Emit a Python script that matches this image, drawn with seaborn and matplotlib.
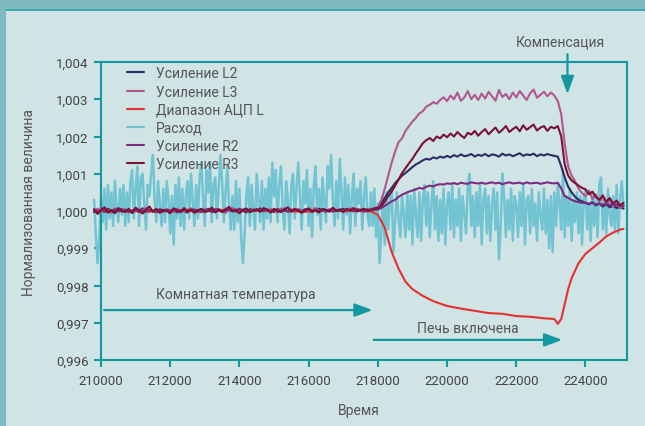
import matplotlib
matplotlib.use("Agg")
import matplotlib.pyplot as plt
import seaborn as sns
import pandas as pd
import numpy as np
from matplotlib.patches import Rectangle
from matplotlib.lines import Line2D

# series names (legend order)
series_names = ["Усиление L2", "Усиление L3", "Диапазон АЦП L", "Расход", "Усиление R2", "Усиление R3"]
colors = {"Усиление L2": "#2d2b63", "Усиление L3": "#b0578f", "Диапазон АЦП L": "#e5312e",
          "Расход": "#72c4d3", "Усиление R2": "#7b2b80", "Усиление R3": "#7a1234"}

# noisy channels sampled every 100 time units from 209800; values = deviation from 1 in units of 1e-5
start_t = 209800
step_t = 100
l2_dev = [-3, 4, 1, -2, 6, 0, -4, 3, 5, -1,
          2, -5, 4, 1, 7, -2, 3, 0, -3, 5,
          1, 4, -2, 6, -1, 3, 0, -4, 5, 2,
          -2, 4, 1, 6, -3, 2, 5, -1, 0, 4,
          3, -2, 6, 1, -4, 5, 2, 0, 7, -1,
          4, 2, -3, 5, 1, 6, -2, 3, 0, 4,
          -1, 5, 2, -3, 4, 6, 1, -2, 3, 5,
          0, 2, 6, -1, 4, 1, 5, 3, -2, 4,
          2, 5,
          8, 20, 35, 50, 62, 75, 85, 95, 102, 110,
          118, 125, 130, 136, 140, 138, 144, 141, 146, 143,
          148, 144, 150, 146, 152, 147, 149, 153, 146, 151,
          148, 153, 147, 152, 150, 146, 154, 149, 152, 147,
          151, 155, 148, 152, 150, 154, 147, 152, 149, 153,
          150, 148, 146, 120, 90, 65, 50, 38, 30, 26,
          22, 18, 24, 15, 20, 12, 18, 10, 14, 8,
          12, 6]
l3_dev = [2, 6, -3, 4, 0, -5, 7, 3, -2, 5,
          -4, 1, 6, -1, 3, 8, -3, 2, 4, -6,
          0, 5, 2, -3, 6, 1, -2, 4, 7, -1,
          3, -4, 5, 2, -1, 6, 0, 3, -5, 4,
          8, 1, -2, 5, 3, -3, 6, 0, 2, 4,
          -1, 5, 2, -4, 7, 3, 0, 4, -2, 6,
          1, -3, 5, 2, 8, 0, 3, -1, 4, 6,
          2, 5, -2, 3, 7, 1, 4, 0, 6, 3,
          5, 8,
          10, 30, 60, 95, 130, 160, 185, 195, 215, 228,
          240, 250, 262, 268, 280, 285, 292, 288, 298, 305,
          295, 310, 300, 318, 296, 305, 322, 300, 312, 298,
          315, 302, 320, 308, 296, 325, 306, 314, 300, 318,
          305, 322, 310, 298, 316, 326, 304, 312, 320, 308,
          318, 310, 295, 260, 180, 120, 95, 80, 60, 48,
          40, 55, 32, 45, 25, 38, 18, 30, 12, 20,
          8, 15]
r2_dev = [1, -2, 3, 0, -3, 2, 4, -1, 0, 3,
          -2, 1, 4, -3, 2, 0, 3, -1, 5, 1,
          -2, 3, 0, 2, -4, 1, 3, -1, 2, 4,
          0, -2, 3, 1, -1, 4, 2, -3, 1, 3,
          -1, 2, 5, 0, -2, 3, 1, 4, -1, 2,
          3, -2, 1, 4, 0, 2, -1, 3, 5, 1,
          -2, 2, 4, 0, 3, -1, 2, 1, 4, -2,
          3, 0, 2, 5, 1, -1, 3, 2, 0, 4,
          2, 3,
          4, 8, 14, 20, 26, 30, 38, 44, 48, 52,
          55, 58, 62, 60, 65, 68, 66, 70, 72, 71,
          74, 73, 75, 72, 76, 74, 73, 77, 75, 74,
          76, 73, 75, 77, 74, 76, 72, 75, 77, 74,
          75, 76, 73, 77, 74, 75, 76, 73, 75, 77,
          75, 74, 76, 60, 40, 35, 30, 26, 24, 22,
          22, 20, 21, 18, 20, 17, 19, 16, 18, 15,
          16, 14]
r3_dev = [5, -8, 3, 10, -4, 2, -6, 8, 0, -3,
          6, -5, 9, 2, -7, 4, 12, -2, 5, -4,
          3, 0, -6, 7, 2, -3, 8, -1, 4, -5,
          2, 6, -3, 0, 9, -4, 3, -2, 5, 11,
          -1, 4, -6, 2, 7, -3, 1, 5, -2, 8,
          3, -4, 6, 0, -3, 4, 10, -2, 5, 1,
          -5, 3, 7, -1, 2, -4, 6, 3, -2, 9,
          0, 4, -3, 5, 2, 8, -1, 3, 6, 0,
          4, 7,
          8, 14, 25, 40, 52, 68, 85, 102, 115, 128,
          140, 155, 168, 182, 190, 196, 188, 200, 195, 205,
          198, 208, 200, 212, 203, 196, 210, 205, 215, 202,
          212, 220, 206, 215, 224, 210, 218, 228, 212, 220,
          226, 214, 230, 218, 225, 232, 216, 224, 228, 215,
          226, 222, 228, 200, 125, 95, 82, 75, 68, 62,
          58, 45, 52, 38, 30, 42, 25, 35, 20, 28,
          15, 22]

# flow channel sampled every 50 time units from 209800, deviation in 1e-5
flow_step = 50
flow_dev = [30, -60, -140, -80, 40, -30, 60, -50, 70, -20, 50, -40, 80, 10, -30, 60, -10, 70, -40, 50,
            -30, 80, 110, -20, 60, 120, -40, 90, 100, 20, -50, 70, 40, 100, 150, 30, -30, 80, 20, -40,
            60, -30, 80, 30, -60, 40, -90, 70, -20, 90, -40, 60, -50, 40, 80, -20, 100, 30, -40, 70,
            -20, 90, 130, 30, -40, 110, 50, 130, -30, 70, 90, -20, 60, 150, 80, -30, 50, 120, 20, -50,
            40, -50, 80, -30, 60, -70, -140, -60, 40, 90, -40, 70, 10, -50, 100, 30, -30, 80, -50, 60,
            -20, 90, -30, 130, 40, 110, -30, 70, 120, 10, -50, 80, 30, -60, 70, 100, -20, 60, 130, 40,
            -50, 80, 20, 110, -40, 60, -70, 70, 120, -10, 60, -50, 90, 30, -30, 120, 60, 150, 30, -40,
            80, -20, 140, 50, -50, 90, -10, 70, -60, 40, 100, -40, 60, 20, 80, -50, 40, 90, -10, -40,
            50, -40, 60, -70, 20, -140, -60, 40, -90, 50, -50, 30, 60, -110, -30, 50, -20, -70, 40, -10,
            -70, 50, -50, 40, -90, 60, -10, -70, 50, -80, 30, 70, -40, 50, -70, 20, 80, -50, 40, -80,
            30, -60, 60, -90, 20, 50, -50, 70, -70, 30, -40, 60, -80, 40, -10, -60, 70, 100, -40, 40,
            -70, 50, -40, 70, -90, 30, 60, -60, 40, -80, 20, 60, -50, 50, -130, -40, 100, 40, -70, 30,
            -50, 60, -80, 40, 20, -70, 50, -40, 70, -90, 30, 40, -60, 60, -40, 20, -80, 50, -10, -50,
            60, -60, 30, -100, 40, -110, 50, -40, 70, 20, -50, 110, -70, 40, -40, 60, -80, 30, -30, 50,
            -60, 40, -90, 30, 60, -50, 20, -80, 50, -40, 40, -70, 70, 90, -50, 30, -60, 60, -10, -40,
            40, -50, 70, -60, 30, 80, 10]

# ADC range channel (smooth)
adc_time = [209800, 210500, 211200, 212000, 212800, 213500, 214300, 215000, 215800, 216500,
            217300, 217800, 218000, 218200, 218400, 218600, 218800, 219000, 219300, 219600,
            220000, 220400, 220800, 221200, 221600, 222000, 222400, 222800, 223100, 223200,
            223300, 223400, 223500, 223600, 223800, 224000, 224200, 224400, 224600, 224800,
            225000, 225100]
adc_val = [1.0000, 1.00003, 0.99998, 1.00002, 0.99999, 1.00003, 1.0, 1.00002, 0.99998, 1.00001,
           1.0, 0.99999, 0.9999, 0.99955, 0.9989, 0.99845, 0.9981, 0.9979, 0.99772, 0.99758,
           0.99745, 0.99738, 0.99732, 0.99726, 0.99724, 0.99718, 0.99716, 0.99712, 0.9971, 0.99697,
           0.9971, 0.9975, 0.9979, 0.9982, 0.9986, 0.99885, 0.9990, 0.99915, 0.99932, 0.99942,
           0.9995, 0.99952]

yticks = [0.996, 0.997, 0.998, 0.999, 1.000, 1.001, 1.002, 1.003, 1.004]
ytick_labels = ["0,996", "0,997", "0,998", "0,999", "1,000", "1,001", "1,002", "1,003", "1,004"]
xticks = [210000, 212000, 214000, 216000, 218000, 220000, 222000, 224000]

frames = []
def add(name, t, v):
    frames.append(pd.DataFrame({"Время": t, "value": v, "series": name}))

add("Усиление L2", start_t + step_t * np.arange(len(l2_dev)), 1 + np.array(l2_dev) * 1e-5)
add("Усиление L3", start_t + step_t * np.arange(len(l3_dev)), 1 + np.array(l3_dev) * 1e-5)
add("Диапазон АЦП L", adc_time, adc_val)
add("Расход", start_t + flow_step * np.arange(len(flow_dev)), 1 + np.array(flow_dev) * 1e-5)
add("Усиление R2", start_t + step_t * np.arange(len(r2_dev)), 1 + np.array(r2_dev) * 1e-5)
add("Усиление R3", start_t + step_t * np.arange(len(r3_dev)), 1 + np.array(r3_dev) * 1e-5)
df = pd.concat(frames, ignore_index=True)

bg = "#d0e3e5"
teal = "#14979f"
txt = "#555555"

sns.set_theme(style="ticks")
plt.rcParams["font.family"] = ["Roboto", "DejaVu Sans"]

fig = plt.figure(figsize=(6.45, 4.27), dpi=100, facecolor=bg)
ax = fig.add_axes([101 / 645, 1 - 361 / 427, 526 / 645, 298 / 427], facecolor=bg)

sns.lineplot(data=df, x="Время", y="value", hue="series", hue_order=series_names,
             palette=colors, estimator=None, sort=False, linewidth=1.5, ax=ax)
for ln in ax.lines:
    ln.set_clip_on(False)
    ln.set_zorder(3)
ax.lines[3].set_zorder(2)
ax.lines[3].set_linewidth(1.8)

ax.set_xlim(210000, 225200)
ax.set_ylim(0.996, 1.004)
ax.set_xticks(xticks)
ax.set_xticklabels([str(x) for x in xticks])
ax.set_yticks(yticks)
ax.set_yticklabels(ytick_labels)
for s in ax.spines.values():
    s.set_visible(True)
    s.set_color(teal)
    s.set_linewidth(1.5)
ax.tick_params(direction="out", length=5, width=1.5, color=teal, labelcolor="#444444",
               labelsize=9.5)
ax.tick_params(axis="x", pad=5)
ax.tick_params(axis="y", pad=4)

ax.set_xlabel("Время", color=txt, fontsize=10)
ax.set_ylabel("Нормализованная величина", color=txt, fontsize=10)
ax.xaxis.set_label_coords(0.49, -0.145)
ax.yaxis.set_label_coords(-0.123, 0.53)

leg = ax.legend(loc="upper left", bbox_to_anchor=(0.03, 1.018), frameon=False, fontsize=10,
                handlelength=1.25, handletextpad=0.9, labelspacing=0.3, borderaxespad=0.3)
for t in leg.get_texts():
    t.set_color(txt)
for h in leg.get_lines():
    h.set_linewidth(1.5)

# annotations
arrow = dict(arrowstyle="-|>,head_length=0.6,head_width=0.22", color=teal, lw=1.6,
             mutation_scale=18, shrinkA=0, shrinkB=0)
ax.annotate("", xy=(217850, 0.99734), xytext=(210090, 0.99734), arrowprops=arrow)
ax.text(213900, 0.99777, "Комнатная температура", color=txt, fontsize=10, ha="center", va="center")
ax.annotate("", xy=(223330, 0.99654), xytext=(217880, 0.99654), arrowprops=arrow)
ax.text(220610, 0.99686, "Печь включена", color=txt, fontsize=10, ha="center", va="center")
ax.annotate("", xy=(223480, 1.00314), xytext=(223480, 1.00421), arrowprops=arrow,
            annotation_clip=False)
ax.text(223280, 1.00454, "Компенсация", color=txt, fontsize=10, ha="center", va="center",
        clip_on=False)

# frame bands
fig.patches.append(Rectangle((0, 1 - 10 / 427), 1, 10 / 427, transform=fig.transFigure,
                             facecolor="#7fbac3", edgecolor="none", zorder=0))
fig.patches.append(Rectangle((0, 0), 6 / 645, 1, transform=fig.transFigure,
                             facecolor="#7fbac3", edgecolor="none", zorder=0))
fig.lines.append(Line2D([6 / 645, 1], [1 - 10.5 / 427, 1 - 10.5 / 427], transform=fig.transFigure,
                        color="#1a9ea6", lw=1.2))

fig.savefig("out.png", dpi=100, facecolor=bg)
